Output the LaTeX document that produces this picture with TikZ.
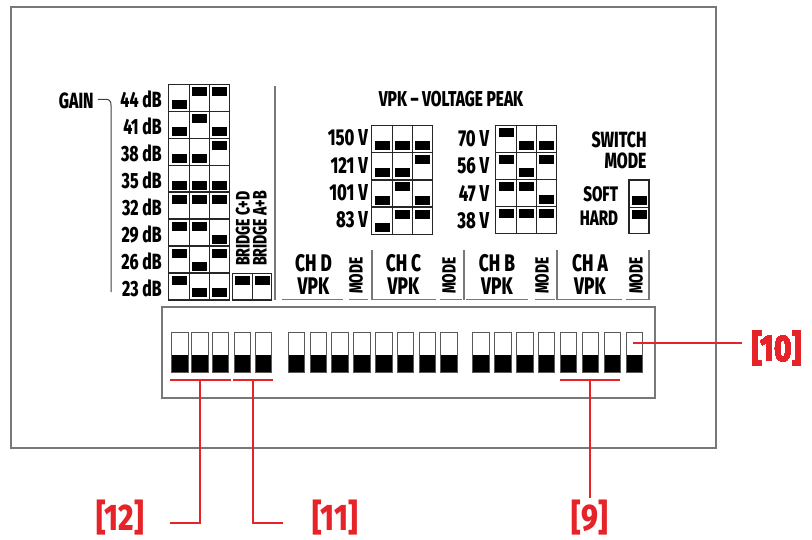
\documentclass[tikz,border=0pt]{standalone}
\usepackage{fontspec}
\newfontfamily\cf[FakeStretch=0.72]{Fira Sans ExtraBold}
\newfontfamily\rf[FakeStretch=0.8]{Fira Sans ExtraBold}
\definecolor{lred}{RGB}{230,35,40}
\definecolor{fgray}{RGB}{120,120,120}
\tikzset{
  outerframe/.style={draw=fgray, line width=1.5},
  gridln/.style={draw=black!85, line width=1.3},
  padfill/.style={fill=black},
  dipsw/.style={draw=black!65, line width=1},
  sepline/.style={draw=fgray, line width=1.3},
  lbl/.style={inner sep=0, font=\cf\fontsize{22}{22}\selectfont},
  vlbl/.style={inner sep=0, font=\cf\fontsize{23}{23}\selectfont},
  hdr/.style={inner sep=0, font=\cf\fontsize{24}{24}\selectfont},
  rot/.style={inner sep=0, rotate=90, anchor=base west},
  leader/.style={draw=lred, line width=2},
  callout/.style={inner sep=0, text=lred, font=\rf\fontsize{37}{37}\selectfont},
}
\newcommand\padcell[4]{% xc, ytop, ybottom, value
  \ifnum#4=1
    \fill[padfill] ({#1-7.5},{#2+2.5}) rectangle ({#1+7.5},{#2+11.5});
  \else
    \fill[padfill] ({#1-7.5},{#3-11.5}) rectangle ({#1+7.5},{#3-2.5});
  \fi}
\newcommand\dipswitch[1]{%
  \fill[padfill] (#1,355) rectangle ({#1+16.5},372);
  \draw[dipsw] (#1,332) rectangle ({#1+16.5},372);}
\begin{document}
\begin{tikzpicture}[x=1pt,y=-1pt]
\useasboundingbox (0,0) rectangle (812,539);
% outer frame
\draw[outerframe] (11,7) rectangle (716,448);
% ---------- GAIN table ----------
\node[lbl, anchor=east] (gain) at (93.8,100.5) {GAIN};
\draw[black!75, line width=1] (gain.east) ++(4,-1) -- (106,99.3)
   .. controls (109.5,99.3) and (111,101.5) .. (111,105) -- (111,292);
\foreach \r/\a/\b/\c [count=\i from 0] in
  {44/0/1/1, 41/0/1/0, 38/0/0/1, 35/0/0/0, 32/1/1/1, 29/1/1/0, 26/1/0/1, 23/1/0/0} {
  \pgfmathsetmacro\yt{84.3+26.96*\i}
  \pgfmathsetmacro\yb{\yt+26.96}
  \padcell{179}{\yt}{\yb}{\a}
  \padcell{199.6}{\yt}{\yb}{\b}
  \padcell{219.5}{\yt}{\yb}{\c}
  \node[lbl, anchor=east] (g\r) at (161.8,{\yt+15}) {\r\ dB};
}
\draw[gridln] (168.3,84.3) rectangle (229.2,300);
\draw[gridln] (189.5,84.3) -- (189.5,300) (209.8,84.3) -- (209.8,300);
\foreach \i in {1,...,7} \draw[gridln] (168.3,{84.3+26.96*\i}) -- (229.2,{84.3+26.96*\i});
% bridge
\padcell{242.5}{273.3}{300}{1}
\padcell{262}{273.3}{300}{1}
\draw[gridln] (232.7,273.3) rectangle (271.7,300) (252.3,273.3) -- (252.3,300);
\node[rot, font=\cf\fontsize{19.5}{19.5}\selectfont] (bcd) at (249.5,266) {BRIDGE C+D};
\node[rot, font=\cf\fontsize{19.5}{19.5}\selectfont] (bab) at (266.5,266) {BRIDGE A+B};
% long separator
\draw[sepline] (275,86) -- (275,300);
% ---------- VPK tables ----------
\node[inner sep=0, font=\cf\fontsize{21.5}{21.5}\selectfont] (vpk) at (451,99) {VPK – VOLTAGE PEAK};
\foreach \v/\a/\b/\c [count=\i from 0] in {150/0/0/0, 121/0/0/1, 101/0/1/0, 83/0/1/1} {
  \pgfmathsetmacro\yt{125.6+27.17*\i}
  \pgfmathsetmacro\yb{\yt+27.17}
  \padcell{382}{\yt}{\yb}{\a}
  \padcell{402.3}{\yt}{\yb}{\b}
  \padcell{422.3}{\yt}{\yb}{\c}
  \node[vlbl, anchor=east] (vl\v) at (368,{\yt+12.5}) {\v\ V};
}
\draw[gridln] (371.7,125.6) rectangle (432.3,234.3);
\draw[gridln] (392.3,125.6) -- (392.3,234.3) (412.3,125.6) -- (412.3,234.3);
\foreach \i in {1,2,3} \draw[gridln] (371.7,{125.6+27.17*\i}) -- (432.3,{125.6+27.17*\i});
\foreach \v/\a/\b/\c [count=\i from 0] in {70/1/0/0, 56/1/0/1, 47/1/1/0, 38/1/1/1} {
  \pgfmathsetmacro\yt{125.3+27.05*\i}
  \pgfmathsetmacro\yb{\yt+27.05}
  \padcell{506.2}{\yt}{\yb}{\a}
  \padcell{526.7}{\yt}{\yb}{\b}
  \padcell{546.7}{\yt}{\yb}{\c}
  \node[vlbl, anchor=east] (vr\v) at (489.3,{\yt+13.8}) {\v\ V};
}
\draw[gridln] (495.7,125.3) rectangle (556.7,233.5);
\draw[gridln] (516.7,125.3) -- (516.7,233.5) (536.7,125.3) -- (536.7,233.5);
\foreach \i in {1,2,3} \draw[gridln] (495.7,{125.3+27.05*\i}) -- (556.7,{125.3+27.05*\i});
% ---------- SWITCH MODE ----------
\node[inner sep=0, font=\cf\fontsize{22}{22}\selectfont, anchor=east] (swt) at (646.7,139.5) {SWITCH};
\node[inner sep=0, font=\cf\fontsize{22}{22}\selectfont, anchor=east] (swm) at (646.7,161) {MODE};
\node[inner sep=0, font=\cf\fontsize{21}{21}\selectfont, anchor=east] (soft) at (618.3,194.5) {SOFT};
\node[inner sep=0, font=\cf\fontsize{21}{21}\selectfont, anchor=east] (hard) at (618.3,218) {HARD};
\padcell{639}{180}{207.3}{0}
\padcell{639}{207.3}{233.3}{1}
\draw[gridln] (629,180) rectangle (649,233.3) (629,207.3) -- (649,207.3);
% ---------- channel headers ----------
\foreach \ch/\cx/\mx [count=\i] in {D/313.5/362.5, C/403.5/455.5, B/497/548.5, A/590/642.5} {
  \node[hdr] (ch\ch) at (\cx,263) {CH \ch};
  \node[hdr] (vpk\ch) at (\cx,286) {VPK};
  \node[rot, font=\cf\fontsize{19}{19}\selectfont] (mode\ch) at (\mx,294) {MODE};
}
\foreach \x in {372,464,557,649} \draw[sepline] (\x,250) -- (\x,300);
\foreach \a/\b in {282/343, 349/368, 373/436, 440/462, 466/528, 535/555, 558/622, 626/648}
  \draw[sepline] (\a,299.5) -- (\b,299.5);
% ---------- DIP switch panel ----------
\draw[outerframe] (162,307) rectangle (655,398);
\foreach \x in {171.7,191.9,212.3,234,255} \dipswitch{\x}
\foreach \k in {0,...,7} \dipswitch{288.3+21.8*\k}
\foreach \k in {0,...,7} \dipswitch{472.7+21.9*\k}
% ---------- callouts ----------
\node[callout, anchor=west] (c10) at (752,349) {[10]};
\node[callout] (c12) at (120,517.5) {[12]};
\node[callout] (c11) at (335,517.5) {[11]};
\node[callout] (c9) at (590,517.5) {[9]};
\coordinate (p10) at (633.3,343.3);
\coordinate (b12) at (200,380);
\coordinate (b11) at (253.3,380);
\coordinate (b9) at (590,380);
\draw[leader] (p10) -- (741.7,343.3);
\draw[leader] (170,380) -- (230.7,380);
\draw[leader] (b12) -- (200,522.7) -- (170,522.7);
\draw[leader] (233.3,380) -- (272.7,380);
\draw[leader] (b11) -- (253.3,522.7) -- (283.3,522.7);
\draw[leader] (560,380) -- (620,380);
\draw[leader] (b9) -- (590,498.3);
\end{tikzpicture}
\end{document}
